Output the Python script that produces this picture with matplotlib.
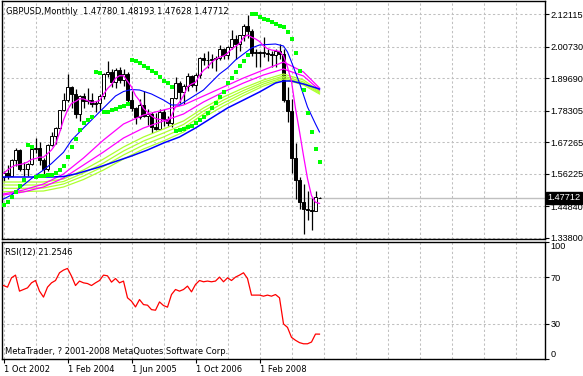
import matplotlib
matplotlib.use('Agg')
import matplotlib.pyplot as plt

W, H = 583, 376

title_text = "GBPUSD,Monthly  1.47780 1.48193 1.47628 1.47712"
rsi_text = "RSI(12) 21.2546"
copyright_text = "MetaTrader, ? 2001-2008 MetaQuotes Software Corp."

# monthly bars, Oct 2002 .. May 2009 (bar index 0..79)
opens = [1.5505, 1.564, 1.554, 1.610, 1.645, 1.578, 1.580, 1.596, 1.649, 1.652,
         1.611, 1.577, 1.661, 1.695, 1.721, 1.785, 1.820, 1.865, 1.840, 1.771,
         1.833, 1.815, 1.820, 1.805, 1.808, 1.834, 1.911, 1.919, 1.884, 1.924,
         1.889, 1.910, 1.820, 1.792, 1.759, 1.801, 1.765, 1.770, 1.727, 1.717,
         1.778, 1.753, 1.738, 1.827, 1.880, 1.848, 1.868, 1.904, 1.873, 1.908,
         1.967, 1.959, 1.960, 1.962, 1.967, 1.999, 1.978, 2.007, 2.032, 2.016,
         2.046, 2.079, 2.062, 1.984, 1.989, 1.986, 1.986, 1.980, 1.976, 1.990,
         1.980, 1.821, 1.783, 1.617, 1.539, 1.462, 1.437, 1.435, 1.432, 1.4778]
highs = [1.572, 1.591, 1.614, 1.651, 1.647, 1.602, 1.600, 1.655, 1.688, 1.672,
         1.617, 1.665, 1.708, 1.725, 1.786, 1.846, 1.912, 1.869, 1.860, 1.837,
         1.845, 1.863, 1.845, 1.816, 1.842, 1.916, 1.955, 1.927, 1.933, 1.937,
         1.928, 1.917, 1.851, 1.797, 1.824, 1.853, 1.788, 1.778, 1.775, 1.788,
         1.788, 1.764, 1.827, 1.900, 1.888, 1.875, 1.913, 1.908, 1.914, 1.972,
         1.985, 1.992, 1.981, 1.973, 2.013, 2.001, 2.008, 2.066, 2.048, 2.045,
         2.085, 2.116, 2.067, 1.999, 1.993, 2.039, 2.000, 1.992, 2.000, 2.016,
         1.999, 1.866, 1.825, 1.669, 1.549, 1.526, 1.502, 1.478, 1.503, 1.4819]
lows = [1.535, 1.544, 1.555, 1.588, 1.570, 1.555, 1.553, 1.592, 1.634, 1.592,
        1.562, 1.573, 1.660, 1.665, 1.715, 1.783, 1.813, 1.793, 1.758, 1.748,
        1.793, 1.805, 1.795, 1.777, 1.786, 1.825, 1.902, 1.864, 1.863, 1.878,
        1.869, 1.814, 1.782, 1.735, 1.752, 1.760, 1.733, 1.704, 1.714, 1.717,
        1.728, 1.728, 1.726, 1.823, 1.809, 1.805, 1.850, 1.864, 1.851, 1.897,
        1.943, 1.933, 1.933, 1.921, 1.960, 1.965, 1.962, 2.000, 1.965, 1.993,
        2.027, 2.038, 1.975, 1.935, 1.934, 1.970, 1.955, 1.936, 1.936, 1.965,
        1.812, 1.743, 1.564, 1.472, 1.440, 1.350, 1.399, 1.366, 1.434, 1.4763]
closes = [1.564, 1.554, 1.610, 1.645, 1.578, 1.580, 1.596, 1.649, 1.652, 1.611,
          1.577, 1.661, 1.695, 1.721, 1.785, 1.820, 1.865, 1.840, 1.771, 1.833,
          1.815, 1.820, 1.805, 1.808, 1.834, 1.911, 1.919, 1.884, 1.924, 1.889,
          1.910, 1.820, 1.792, 1.759, 1.801, 1.765, 1.770, 1.727, 1.717, 1.778,
          1.753, 1.738, 1.827, 1.880, 1.848, 1.868, 1.904, 1.873, 1.908, 1.967,
          1.959, 1.960, 1.962, 1.967, 1.999, 1.978, 2.007, 2.032, 2.016, 2.046,
          2.079, 2.062, 1.984, 1.989, 1.986, 1.986, 1.980, 1.976, 1.990, 1.980,
          1.821, 1.783, 1.617, 1.539, 1.462, 1.437, 1.435, 1.432, 1.479, 1.47712]

# fast magenta average, one value per bar
ma_fast = [1.563, 1.575, 1.585, 1.592, 1.594, 1.597, 1.603, 1.612, 1.615, 1.620,
           1.620, 1.632, 1.645, 1.665, 1.705, 1.750, 1.785, 1.808, 1.815, 1.824,
           1.824, 1.818, 1.811, 1.814, 1.818, 1.840, 1.860, 1.874, 1.896, 1.905,
           1.905, 1.886, 1.866, 1.836, 1.818, 1.790, 1.778, 1.764, 1.755, 1.752,
           1.750, 1.744, 1.765, 1.797, 1.812, 1.835, 1.866, 1.876, 1.882, 1.906,
           1.924, 1.935, 1.952, 1.963, 1.970, 1.974, 1.984, 1.998, 2.008, 2.018,
           2.038, 2.048, 2.040, 2.034, 2.025, 2.010, 2.000, 1.995, 1.993, 1.990,
           1.975, 1.935, 1.885, 1.790, 1.710, 1.625, 1.545, 1.485, 1.462, 1.458]

# fast blue average (read at these bars)
blue_fast_idx = [0, 2, 5, 7, 10, 12, 15, 17, 20, 22, 24, 26, 28, 30, 32, 34, 37, 40,
                 42, 44, 46, 48, 50, 52, 54, 56, 58, 60, 62, 64, 66, 68, 70, 71, 72,
                 74, 76, 78, 79]
blue_fast = [1.4735, 1.4875, 1.5225, 1.5452, 1.5750, 1.5977, 1.6370, 1.6790, 1.7220,
             1.7500, 1.7780, 1.8060, 1.8341, 1.8498, 1.8568, 1.8551, 1.8411, 1.8200,
             1.8026, 1.8026, 1.8200, 1.8376, 1.8551, 1.8831, 1.9111, 1.9321, 1.9601,
             1.9811, 2.0021, 2.0127, 2.0144, 2.0161, 2.0091, 1.9881, 1.9531, 1.8796,
             1.7956, 1.7361, 1.7081]

# slow blue average
blue_slow_idx = [0, 4, 8, 12, 15, 18, 21, 24, 28, 32, 36, 40, 44, 48, 52, 56, 60,
                 64, 68, 70, 72, 75, 79]
blue_slow = [1.5505, 1.5505, 1.5505, 1.5505, 1.5522, 1.5610, 1.5732, 1.5855, 1.6048,
             1.6240, 1.6450, 1.6695, 1.6906, 1.7220, 1.7571, 1.7921, 1.8200, 1.8481,
             1.8796, 1.8866, 1.8866, 1.8761, 1.8586]

# medium averages (magenta pair, yellow-green group)
mid_idx = [0, 5, 10, 15, 20, 25, 30, 35, 40, 45, 50, 55, 60, 65, 70, 75, 79]
magenta_a = [1.4910, 1.5050, 1.5260, 1.5610, 1.6170, 1.6800, 1.7360, 1.7675, 1.7850,
             1.8026, 1.8341, 1.8656, 1.8971, 1.9251, 1.9531, 1.9181, 1.8621]
magenta_b = [1.4875, 1.4980, 1.5155, 1.5470, 1.5925, 1.6380, 1.6870, 1.7220, 1.7465,
             1.7711, 1.8131, 1.8481, 1.8796, 1.9076, 1.9286, 1.9041, 1.8551]
green_1 = [1.5330, 1.5330, 1.5330, 1.5435, 1.5750, 1.6135, 1.6555, 1.6906, 1.7186,
           1.7466, 1.7921, 1.8306, 1.8621, 1.8901, 1.9111, 1.8901, 1.8516]
green_2 = [1.5225, 1.5225, 1.5225, 1.5347, 1.5645, 1.5995, 1.6415, 1.6765, 1.7045,
           1.7343, 1.7816, 1.8201, 1.8533, 1.8831, 1.9041, 1.8831, 1.8481]
green_3 = [1.5109, 1.5109, 1.5120, 1.5260, 1.5540, 1.5873, 1.6275, 1.6625, 1.6906,
           1.7220, 1.7711, 1.8096, 1.8446, 1.8761, 1.8988, 1.8778, 1.8446]
green_4 = [1.4990, 1.4997, 1.5015, 1.5155, 1.5417, 1.5750, 1.6135, 1.6485, 1.6765,
           1.7080, 1.7588, 1.7991, 1.8358, 1.8691, 1.8936, 1.8726, 1.8411]

# parabolic SAR, one dot per bar
sar = [1.4525, 1.4640, 1.4794, 1.4990, 1.5190, 1.5400, 1.6625, 1.6566, 1.5515, 1.5540,
       1.5547, 1.5564, 1.5585, 1.5655, 1.5750, 1.5890, 1.6194, 1.6545, 1.6835, 1.7150,
       1.7385, 1.7500, 1.7623, 1.9191, 1.9156, 1.7780, 1.7791, 1.7850, 1.7896, 1.7945,
       1.8001, 1.8061, 1.9601, 1.9566, 1.9485, 1.9401, 1.9310, 1.9226, 1.9135, 1.9016,
       1.8876, 1.8785, 1.8645, 1.7126, 1.7150, 1.7185, 1.7245, 1.7301, 1.7385, 1.7500,
       1.7616, 1.7756, 1.7910, 1.8085, 1.8295, 1.8491, 1.8785, 1.8960, 1.9191, 1.9391,
       1.9576, 1.9776, 2.1211, 2.1211, 2.1106, 2.1036, 2.1001, 2.0921, 2.0861, 2.0802,
       2.0767, 2.0592, 2.0336, 1.9857, 1.9226, 1.8551, 1.7735, 1.7081, 1.6485, 1.6040]

rsi = [62.8, 61.4, 69.4, 71.7, 58.0, 59.4, 60.8, 65.1, 67.1, 58.0,
       52.9, 61.4, 65.1, 67.1, 73.7, 76.0, 77.4, 70.9, 62.8, 66.6,
       65.1, 64.5, 62.8, 65.1, 67.1, 71.7, 71.1, 65.7, 68.8, 65.1,
       66.6, 52.3, 49.4, 44.5, 50.8, 46.5, 46.0, 42.2, 41.7, 48.8,
       45.7, 44.3, 55.1, 59.4, 58.0, 59.4, 62.3, 57.4, 63.7, 67.1,
       66.0, 66.6, 66.0, 66.6, 70.0, 66.0, 69.4, 67.1, 70.0, 71.7,
       73.7, 68.8, 54.6, 54.6, 54.6, 53.7, 54.6, 53.7, 55.1, 52.3,
       30.0, 27.0, 18.5, 16.0, 14.0, 13.0, 13.0, 14.5, 21.3, 21.25]

price_ticks = [2.12115, 2.00730, 1.89690, 1.78305, 1.67265, 1.56225, 1.44840, 1.33800]
price_tick_labels = ["2.12115", "2.00730", "1.89690", "1.78305", "1.67265", "1.56225",
                     "1.44840", "1.33800"]
last_price = 1.47712
rsi_ticks = [0, 30, 70, 100]
date_idx = [0, 16, 32, 48, 64]
date_labels = ["1 Oct 2002", "1 Feb 2004", "1 Jun 2005", "1 Oct 2006", "1 Feb 2008"]

plt.rcParams['font.family'] = 'DejaVu Sans'
FS = 6
AXIS_FONT = 'Liberation Sans'
AXIS_FS = 6.6
GRID = dict(color='#c0c0c0', linestyle=(0, (2.2, 2.2)), linewidth=0.75)


def fx(px):
    return px / W


def fy(py):
    return 1 - py / H


fig = plt.figure(figsize=(W / 100, H / 100), dpi=100)
ax = fig.add_axes([fx(2), fy(239), fx(545) - fx(2), fy(1) - fy(239)])
rax = fig.add_axes([fx(2), fy(359), fx(545) - fx(2), fy(242) - fy(359)])

x_left, x_right = -0.375, 135.375
grid_x = list(range(0, 136, 8))
idx = list(range(len(closes)))

for a in (ax, rax):
    a.set_xlim(x_left, x_right)
    for s in a.spines.values():
        s.set_color('black')
        s.set_linewidth(1.0)
    a.set_xticks(grid_x, minor=True)
    a.grid(True, which='both', axis='x', **GRID)
    a.grid(True, which='major', axis='y', **GRID)
    a.set_axisbelow(True)
    a.yaxis.tick_right()
    a.tick_params(axis='y', length=3, width=0.8, pad=1.2, labelsize=AXIS_FS,
                  labelfontfamily=AXIS_FONT, direction='out')
    a.tick_params(axis='x', which='minor', length=0)

# --- price panel ---
ax.set_ylim(1.3334, 2.1667)
ax.set_xticks([])
ax.set_xticks(grid_x, minor=True)
ax.set_yticks(price_ticks)
ax.set_yticklabels(price_tick_labels)

ax.axhline(last_price, color='#c0c0c0', lw=1.0, zorder=1)

# candles
for i in idx:
    o, h, l, c = opens[i], highs[i], lows[i], closes[i]
    ax.vlines(i, l, h, color='black', lw=0.9, zorder=3)
    bottom = min(o, c)
    height = max(abs(c - o), 0.0008)
    face = 'white' if c >= o else 'black'
    ax.bar(i, height, width=0.62, bottom=bottom, color=face, edgecolor='black',
           linewidth=0.7, zorder=3)

ax.plot(mid_idx, green_4, color='#adff2f', lw=0.9, zorder=4)
ax.plot(mid_idx, green_3, color='#adff2f', lw=0.9, zorder=4)
ax.plot(mid_idx, green_2, color='#adff2f', lw=0.9, zorder=4)
ax.plot(mid_idx, green_1, color='#adff2f', lw=0.9, zorder=4)
ax.plot(mid_idx, magenta_b, color='#ff00ff', lw=0.9, zorder=4)
ax.plot(mid_idx, magenta_a, color='#ff00ff', lw=0.9, zorder=4)
ax.plot(blue_slow_idx, blue_slow, color='#0000ff', lw=1.1, zorder=4)
ax.plot(blue_fast_idx, blue_fast, color='#0000ff', lw=0.8, zorder=4)
ax.plot(idx, ma_fast, color='#ff00ff', lw=0.9, zorder=4)
ax.scatter(idx, sar, marker='s', s=6, color='#00ff00', linewidths=0, zorder=5)

ax.text(1.0045, last_price, f"{last_price:.5f}", transform=ax.get_yaxis_transform(),
        ha='left', va='center', color='white', fontsize=AXIS_FS, family=AXIS_FONT,
        zorder=10, clip_on=False,
        bbox=dict(boxstyle='square,pad=0.2', fc='black', ec='black'))

# --- RSI panel ---
rax.set_ylim(0, 100)
rax.plot(idx, rsi, color='#ff0000', lw=0.9, zorder=4)
rax.set_yticks(rsi_ticks)
rax.set_yticklabels([str(t) for t in rsi_ticks])
ylabels = rax.get_yticklabels()
ylabels[0].set_va('bottom')
ylabels[-1].set_va('top')
ylabels[-1].set_y(97)
rax.set_xticks(date_idx)
rax.set_xticklabels(date_labels, fontsize=FS, ha='left')
rax.tick_params(axis='x', which='major', length=3, width=0.8, pad=1)

fig.text(fx(6), fy(11), title_text, fontsize=FS, ha='left', va='center')
fig.text(fx(5), fy(252), rsi_text, fontsize=FS, ha='left', va='center')
fig.text(fx(5), fy(351), copyright_text, fontsize=FS, ha='left', va='center')

fig.savefig('out.png', dpi=100, facecolor='white')
